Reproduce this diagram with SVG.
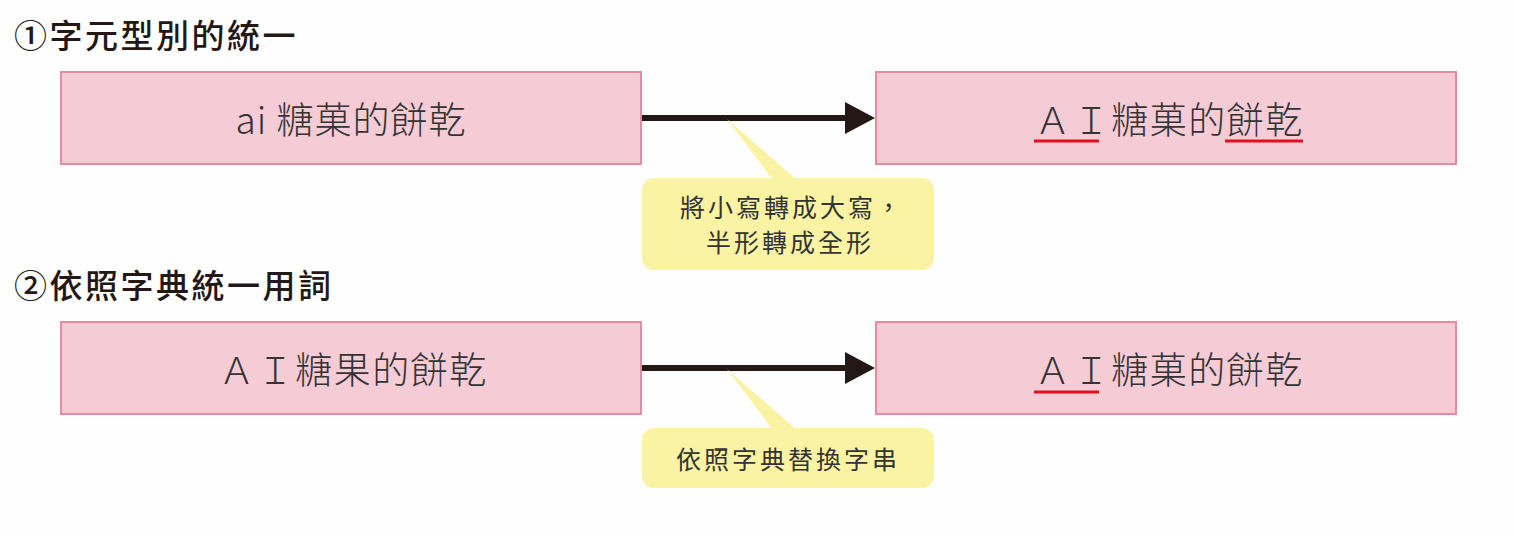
<svg xmlns="http://www.w3.org/2000/svg" width="1514" height="536" viewBox="0 0 1514 536">
<defs>
<style>
.head{font-family:"Noto Sans CJK TC","Noto Sans CJK JP",sans-serif;font-weight:500;font-size:33px;fill:#231815;letter-spacing:2.5px}
.box{fill:#f5cbd5;stroke:#e98aa2;stroke-width:2}
.btxt{font-family:"Noto Sans CJK TC","Noto Sans CJK JP",sans-serif;font-size:37px;fill:#333;text-anchor:middle;font-weight:300}
.call{fill:#fbf3a4}
.ctxt{font-family:"Noto Sans CJK TC","Noto Sans CJK JP",sans-serif;font-size:25px;fill:#333;text-anchor:middle;letter-spacing:3px}
.ul{stroke:#e0101e;stroke-width:3}
.arr{stroke:#231815;stroke-width:6}
.ah{fill:#231815}
</style>
</defs>
<rect width="1514" height="536" fill="#fffefe"/>
<text class="head" x="14" y="48">①字元型別的統一</text>
<text class="head" x="14" y="298">②依照字典統一用詞</text>
<g id="connectors">
<g id="c1"><line class="arr" x1="641" y1="118" x2="848" y2="118"/><polygon class="ah" points="845,102 875,118 845,134"/></g>
<g id="c2"><line class="arr" x1="641" y1="368" x2="848" y2="368"/><polygon class="ah" points="845,352 875,368 845,384"/></g>
</g>
<g id="n1"><rect class="box" x="61" y="72" width="580" height="92"/><text class="btxt" x="351" y="134" letter-spacing="1">ai 糖菓的餅乾</text></g>
<g id="n2"><rect class="box" x="876" y="72" width="580" height="92"/><text class="btxt" x="1169" y="134" letter-spacing="1.5">ＡＩ糖菓的餅乾</text>
<line class="ul" x1="1034" y1="141" x2="1099" y2="141"/><line class="ul" x1="1225" y1="141" x2="1303" y2="141"/></g>
<g id="n3"><rect class="box" x="61" y="322" width="580" height="92"/><text class="btxt" x="353" y="384" letter-spacing="1.5">ＡＩ糖果的餅乾</text></g>
<g id="n4"><rect class="box" x="876" y="322" width="580" height="92"/><text class="btxt" x="1169" y="384" letter-spacing="1.5">ＡＩ糖菓的餅乾</text>
<line class="ul" x1="1034" y1="392" x2="1099" y2="392"/></g>
<g id="callout1"><polygon class="call" points="727,119 773,180 797,180"/><rect class="call" x="642" y="178" width="292" height="92" rx="12"/>
<text class="ctxt" x="792" y="217">將小寫轉成大寫，</text><text class="ctxt" x="790" y="252">半形轉成全形</text></g>
<g id="callout2"><polygon class="call" points="727,369 773,430 797,430"/><rect class="call" x="642" y="428" width="292" height="60" rx="12"/>
<text class="ctxt" x="788" y="469">依照字典替換字串</text></g>
</svg>
